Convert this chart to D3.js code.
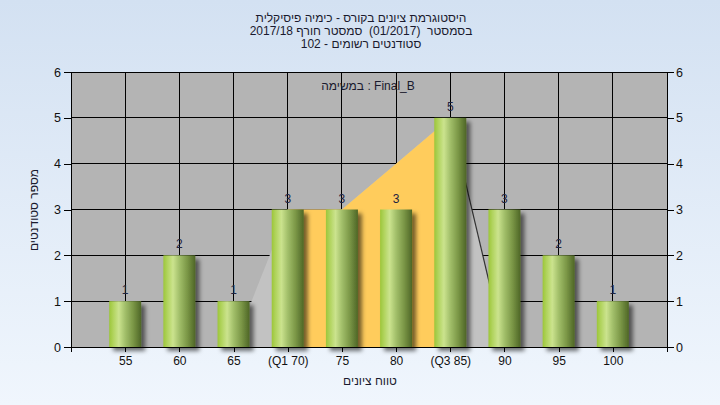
<!DOCTYPE html>
<html><head><meta charset="utf-8">
<script src="https://cdn.jsdelivr.net/npm/d3@7/dist/d3.min.js"></script>
<style>
html,body{margin:0;padding:0;}
body{width:720px;height:405px;overflow:hidden;}
text{font-family:"Liberation Sans",Arial,sans-serif;white-space:pre;}
</style></head><body>
<svg id="c" width="720" height="405"></svg>
<script>
const categories = ["55","60","65","(Q1 70)","75","80","(Q3 85)","90","95","100"];
const counts = [1,2,1,3,3,3,5,3,2,1];
const areaValues = [null,null,0,3,3,4,5,0,null,null];
const q1Index = 3, q3Index = 6;
const yTicks = [0,1,2,3,4,5,6];
const titleLines = ["היסטוגרמת ציונים בקורס - כימיה פיסיקלית","בסמסטר  (01/2017)  סמסטר חורף 2017/18","סטודנטים רשומים - 102"];
const subtitle = "במשימה : Final_B";
const xTitle = "טווח ציונים";
const yTitle = "מספר סטודנטים";

const svg = d3.select("#c");
const L=71,R=667,T=72,B=347;
const defs = svg.append("defs");
const bg = defs.append("linearGradient").attr("id","bg").attr("x1",0).attr("y1",0).attr("x2",0).attr("y2",1);
bg.append("stop").attr("offset","0%").attr("stop-color","#d3e1f2");
bg.append("stop").attr("offset","100%").attr("stop-color","#f0f6fd");
const bar = defs.append("linearGradient").attr("id","bar").attr("x1",0).attr("y1",0).attr("x2",1).attr("y2",0);
[[0,"#9cc63a"],[0.12,"#b0d35c"],[0.3,"#cbe38e"],[0.5,"#a2bf6a"],[0.75,"#7a9646"],[1,"#4e6626"]].forEach(([o,c])=>bar.append("stop").attr("offset",o).attr("stop-color",c));
const f = defs.append("filter").attr("id","sh").attr("x","-20%").attr("y","-20%").attr("width","160%").attr("height","140%");
f.append("feDropShadow").attr("dx",4).attr("dy",4).attr("stdDeviation",2).attr("flood-color","#000").attr("flood-opacity",0.55);

svg.append("rect").attr("width",720).attr("height",405).attr("fill","url(#bg)");

const x = d3.scalePoint().domain(categories).range([L,R]).padding(1);
const y = d3.scaleLinear().domain([0,6]).range([B,T]);

svg.append("rect").attr("x",L).attr("y",T).attr("width",R-L).attr("height",B-T).attr("fill","#b4b4b4");

// gridlines
svg.append("g").selectAll("line").data(yTicks).join("line")
  .attr("x1",L).attr("x2",R).attr("y1",d=>y(d)).attr("y2",d=>y(d)).attr("stroke","#000").attr("stroke-width",1).attr("shape-rendering","crispEdges");
svg.append("g").selectAll("line").data(categories).join("line")
  .attr("x1",d=>x(d)).attr("x2",d=>x(d)).attr("y1",T).attr("y2",B).attr("stroke","#000").attr("stroke-width",1).attr("shape-rendering","crispEdges");

// area
const pts = categories.map((c,i)=>({c,i,v:areaValues[i]})).filter(d=>d.v!==null);
const area = d3.area().x(d=>x(d.c)).y0(y(0)).y1(d=>y(d.v));
svg.append("path").datum(pts).attr("d",area).attr("fill","#c2c2c2");
const qpts = pts.filter(d=>d.i>=q1Index && d.i<=q3Index);
svg.append("path").datum(qpts).attr("d",area).attr("fill","#ffcc5c");
const tail = pts.filter(d=>d.i>=q3Index);
svg.append("path").datum(tail).attr("d",d3.line().x(d=>x(d.c)).y(d=>y(d.v))).attr("fill","none").attr("stroke","#333").attr("stroke-width",1.2);

// bars
const bw = 32;
svg.append("g").selectAll("rect").data(categories).join("rect")
  .attr("x",d=>x(d)-bw/2).attr("y",(d,i)=>y(counts[i])).attr("width",bw).attr("height",(d,i)=>y(0)-y(counts[i]))
  .attr("fill","url(#bar)").attr("filter","url(#sh)");

// value labels
svg.append("g").selectAll("text").data(categories).join("text")
  .attr("x",d=>x(d)).attr("y",(d,i)=>y(counts[i])-7).attr("text-anchor","middle")
  .attr("font-size",12).attr("fill","#1e2340").text((d,i)=>counts[i]);

// axes
const left = d3.axisLeft(y).tickValues(yTicks).tickSize(7).tickPadding(3).tickFormat(d3.format("d"));
const right = d3.axisRight(y).tickValues(yTicks).tickSize(7).tickPadding(2).tickFormat(d3.format("d"));
const bottom = d3.axisBottom(x).tickSize(5).tickPadding(4);
function style(g){g.select(".domain").remove();g.selectAll("line").attr("stroke","#000").attr("shape-rendering","crispEdges");g.selectAll("text").attr("font-size",12.5).attr("fill","#111").attr("font-family","'Liberation Sans',Arial,sans-serif");}
svg.append("g").attr("transform",`translate(${L},0)`).call(left).call(style);
svg.append("g").attr("transform",`translate(${R},0)`).call(right).call(style);
svg.append("g").attr("transform",`translate(0,${B})`).call(bottom).call(style).selectAll("text").attr("font-size",12);
// axis lines
svg.append("line").attr("x1",L).attr("x2",R).attr("y1",B).attr("y2",B).attr("stroke","#000").attr("shape-rendering","crispEdges");
svg.append("line").attr("x1",L).attr("x2",L).attr("y1",T).attr("y2",B+5).attr("stroke","#000").attr("shape-rendering","crispEdges");
svg.append("line").attr("x1",R).attr("x2",R).attr("y1",T).attr("y2",B+5).attr("stroke","#000").attr("shape-rendering","crispEdges");

// titles
svg.append("g").selectAll("text").data(titleLines).join("text")
  .attr("x",361).attr("y",(d,i)=>22+i*13).attr("text-anchor","middle").attr("direction","rtl")
  .attr("font-size",12).attr("fill","#1a1a2e").text(d=>d);
svg.append("text").attr("x",368).attr("y",90).attr("text-anchor","middle").attr("font-size",12).attr("fill","#1a1a2e").text(subtitle);
svg.append("text").attr("x",370).attr("y",385).attr("text-anchor","middle").attr("direction","rtl").attr("font-size",12).attr("fill","#1a1a2e").text(xTitle);
svg.append("text").attr("transform","translate(38,210) rotate(-90)").attr("text-anchor","middle").attr("direction","rtl").attr("font-size",12).attr("fill","#1a1a2e").text(yTitle);
</script></body></html>
